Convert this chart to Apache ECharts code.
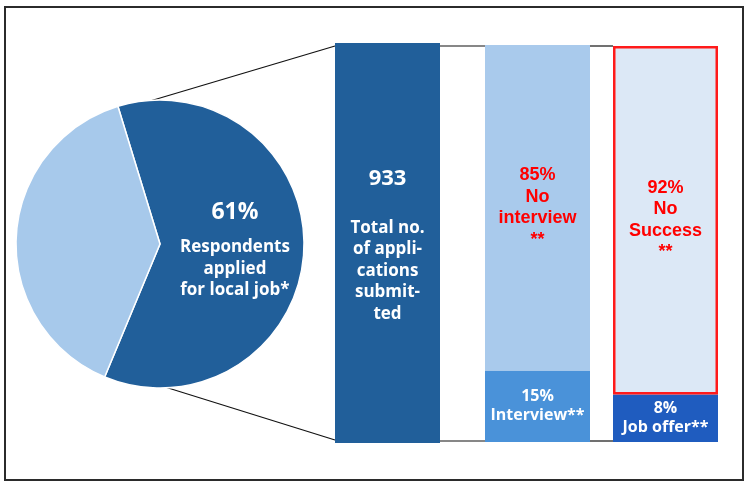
<!DOCTYPE html>
<html>
<head>
<meta charset="utf-8">
<script src="https://cdn.jsdelivr.net/npm/echarts@6/dist/echarts.min.js"></script>
<style>html,body{margin:0;padding:0;background:#fff;}#c{width:750px;height:491px;}</style>
</head>
<body>
<div id="c"></div>
<script>
// ---- data ----
const pieNames = ['Respondents applied for local job*', 'Did not apply'];
const pieValues = [61, 39];
const totalApplications = 933;
const totalBarValue = [100];
// drawn segment heights (share of bar height as seen in the picture)
const interviewSegments = [18, 82];       // [Interview, No interview]
const interviewLabels = ['15%', '85%'];
const outcomeSegments = [12, 88];         // [Job offer, No success]
const outcomeLabels = ['8%', '92%'];

const DARK = '#215f9a', LIGHT = '#a7c9eb';
const WFONT = 'Open Sans', RFONT = 'Liberation Sans';

const chart = echarts.init(document.getElementById('c'), null, {renderer: 'canvas'});

const grids = [
  {left: 335, top: 43, width: 105, height: 400},
  {left: 485, top: 45, width: 105, height: 397},
  {left: 613, top: 46, width: 105, height: 396}
];
const xAxes = grids.map((g, i) => ({gridIndex: i, type: 'category', data: ['c' + i], show: false}));
const yAxes = grids.map((g, i) => ({gridIndex: i, type: 'value', min: 0, max: 100, show: false}));

const whiteLabel = (txt, size, lh) => ({
  show: true, position: 'inside', formatter: txt, color: '#fff',
  fontFamily: WFONT, fontWeight: 700, fontSize: size, lineHeight: lh, align: 'center'
});
const redLabel = (txt) => ({
  show: true, position: 'inside', formatter: txt, color: '#ff0000',
  fontFamily: RFONT, fontWeight: 700, fontSize: 18, lineHeight: 21.5, align: 'center'
});

chart.setOption({
  animation: false,
  grid: grids,
  xAxis: xAxes,
  yAxis: yAxes,
  graphic: [
    {type: 'rect', shape: {x: 5, y: 7, width: 738, height: 473}, style: {fill: 'none', stroke: '#2b2b2b', lineWidth: 2}, z: 0},
    {type: 'line', shape: {x1: 150, y1: 101, x2: 335, y2: 46}, style: {stroke: '#111', lineWidth: 1.2}},
    {type: 'line', shape: {x1: 165, y1: 387, x2: 335, y2: 440}, style: {stroke: '#111', lineWidth: 1.2}},
    {type: 'line', shape: {x1: 440, y1: 46, x2: 485, y2: 46}, style: {stroke: '#111', lineWidth: 1.2}},
    {type: 'line', shape: {x1: 590, y1: 46, x2: 613, y2: 46}, style: {stroke: '#111', lineWidth: 1.2}},
    {type: 'line', shape: {x1: 440, y1: 441, x2: 485, y2: 441}, style: {stroke: '#111', lineWidth: 1.2}},
    {type: 'line', shape: {x1: 590, y1: 441, x2: 613, y2: 441}, style: {stroke: '#111', lineWidth: 1.2}}
  ],
  series: [
    {
      type: 'pie', center: [160, 244], radius: 144, startAngle: 107, clockwise: true,
      silent: true,
      itemStyle: {borderColor: '#fff', borderWidth: 1.5},
      labelLine: {show: false},
      data: [
        {name: pieNames[0], value: pieValues[0], itemStyle: {color: DARK},
         label: {show: true, position: 'inside', offset: [0, -3],
           formatter: () => '{a|' + pieValues[0] + '%}\n{b|Respondents}\n{b|applied}\n{b|for local job*}',
           rich: {
             a: {color: '#fff', fontFamily: WFONT, fontWeight: 700, fontSize: 23, lineHeight: 48, align: 'center'},
             b: {color: '#fff', fontFamily: WFONT, fontWeight: 700, fontSize: 17, lineHeight: 21.5, align: 'center'}
           }}},
        {name: pieNames[1], value: pieValues[1], itemStyle: {color: LIGHT}, label: {show: false}}
      ]
    },
    {
      type: 'bar', xAxisIndex: 0, yAxisIndex: 0, barWidth: '100%', data: totalBarValue,
      itemStyle: {color: DARK},
      label: {
        show: true, position: 'inside', offset: [0, -11],
        formatter: () => '{a|' + totalApplications + '}\n{b|Total no.}\n{b|of appli-}\n{b|cations}\n{b|submit-}\n{b|ted}',
        rich: {
          a: {color: '#fff', fontFamily: WFONT, fontWeight: 700, fontSize: 22, lineHeight: 78, align: 'center'},
          b: {color: '#fff', fontFamily: WFONT, fontWeight: 700, fontSize: 17, lineHeight: 21.5, align: 'center'}
        }
      }
    },
    {
      type: 'bar', xAxisIndex: 1, yAxisIndex: 1, stack: 'b2', barWidth: '100%', data: [interviewSegments[0]],
      itemStyle: {color: '#4a92d9'},
      label: whiteLabel(interviewLabels[0] + '\nInterview**', 16, 19)
    },
    {
      type: 'bar', xAxisIndex: 1, yAxisIndex: 1, stack: 'b2', barWidth: '100%', data: [interviewSegments[1]],
      itemStyle: {color: '#a9caec'},
      label: redLabel(interviewLabels[1] + '\nNo\ninterview\n**')
    },
    {
      type: 'bar', xAxisIndex: 2, yAxisIndex: 2, stack: 'b3', barWidth: '100%', data: [outcomeSegments[0]],
      itemStyle: {color: '#1f5cbf'},
      label: whiteLabel(outcomeLabels[0] + '\nJob offer**', 16, 19)
    },
    {
      type: 'bar', xAxisIndex: 2, yAxisIndex: 2, stack: 'b3', barWidth: '100%', data: [outcomeSegments[1]],
      itemStyle: {color: '#dce8f6', borderColor: '#ff1a1a', borderWidth: 2.5},
      label: redLabel(outcomeLabels[1] + '\nNo\nSuccess\n**')
    }
  ]
});
</script>
</body>
</html>
